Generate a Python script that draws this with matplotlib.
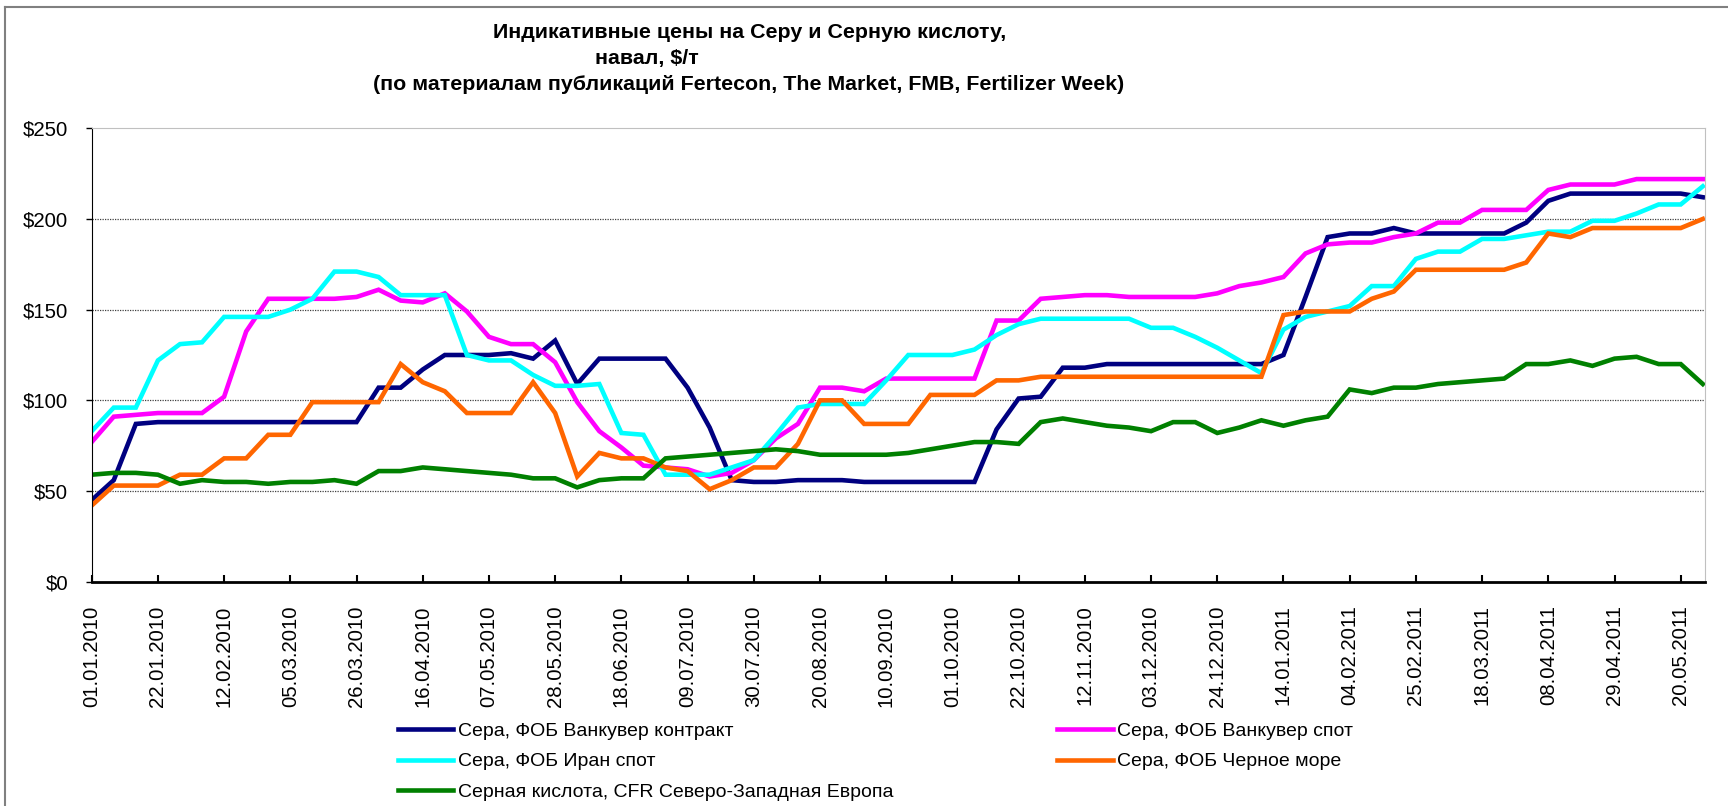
import pandas as pd
import matplotlib
matplotlib.use("Agg")
import matplotlib.pyplot as plt
from matplotlib.lines import Line2D

plt.rcParams['font.family'] = ['Liberation Sans', 'DejaVu Sans']

# weekly dates, 01.01.2010 .. 27.05.2011
dates = pd.date_range("2010-01-01", periods=74, freq="7D")
tick_labels = [d.strftime("%d.%m.%Y") for d in dates]

vanc_contract = [45, 56, 87, 88, 88, 88, 88, 88, 88, 88,
                 88, 88, 88, 107, 107, 117, 125, 125, 125, 126,
                 123, 133, 109, 123, 123, 123, 123, 107, 85, 56,
                 55, 55, 56, 56, 56, 55, 55, 55, 55, 55,
                 55, 84, 101, 102, 118, 118, 120, 120, 120, 120,
                 120, 120, 120, 120, 125, 157, 190, 192, 192, 195,
                 192, 192, 192, 192, 192, 198, 210, 214, 214, 214,
                 214, 214, 214, 212]

vanc_spot = [77, 91, 92, 93, 93, 93, 102, 138, 156, 156,
             156, 156, 157, 161, 155, 154, 159, 149, 135, 131,
             131, 121, 99, 83, 74, 64, 63, 62, 58, 60,
             67, 79, 87, 107, 107, 105, 112, 112, 112, 112,
             112, 144, 144, 156, 157, 158, 158, 157, 157, 157,
             157, 159, 163, 165, 168, 181, 186, 187, 187, 190,
             192, 198, 198, 205, 205, 205, 216, 219, 219, 219,
             222, 222, 222, 222]

iran_spot = [83, 96, 96, 122, 131, 132, 146, 146, 146, 150,
             156, 171, 171, 168, 158, 158, 158, 125, 122, 122,
             114, 108, 108, 109, 82, 81, 59, 59, 59, 63,
             67, 81, 96, 98, 98, 98, 111, 125, 125, 125,
             128, 136, 142, 145, 145, 145, 145, 145, 140, 140,
             135, 129, 122, 115, 139, 146, 149, 152, 163, 163,
             178, 182, 182, 189, 189, 191, 193, 193, 199, 199,
             203, 208, 208, 218]

black_sea = [42, 53, 53, 53, 59, 59, 68, 68, 81, 81,
             99, 99, 99, 99, 120, 110, 105, 93, 93, 93,
             110, 93, 58, 71, 68, 68, 63, 61, 51, 56,
             63, 63, 76, 100, 100, 87, 87, 87, 103, 103,
             103, 111, 111, 113, 113, 113, 113, 113, 113, 113,
             113, 113, 113, 113, 147, 149, 149, 149, 156, 160,
             172, 172, 172, 172, 172, 176, 192, 190, 195, 195,
             195, 195, 195, 200]

acid_nwe = [59, 60, 60, 59, 54, 56, 55, 55, 54, 55,
            55, 56, 54, 61, 61, 63, 62, 61, 60, 59,
            57, 57, 52, 56, 57, 57, 68, 69, 70, 71,
            72, 73, 72, 70, 70, 70, 70, 71, 73, 75,
            77, 77, 76, 88, 90, 88, 86, 85, 83, 88,
            88, 82, 85, 89, 86, 89, 91, 106, 104, 107,
            107, 109, 110, 111, 112, 120, 120, 122, 119, 123,
            124, 120, 120, 109]

series = [
    ("Сера, ФОБ Ванкувер контракт", vanc_contract, "#000080"),
    ("Сера, ФОБ Ванкувер спот", vanc_spot, "#FF00FF"),
    ("Сера, ФОБ Иран спот", iran_spot, "#00FFFF"),
    ("Сера, ФОБ Черное море", black_sea, "#FF6600"),
    ("Серная кислота, CFR Северо-Западная Европа", acid_nwe, "#008000"),
]

fig = plt.figure(figsize=(17.28, 8.06), dpi=100)
ax = fig.add_axes([91.7 / 1728, 1 - 581.7 / 806, (1705 - 91.7) / 1728, (581.7 - 128.3) / 806])

x = list(range(len(dates)))
handles = {}
for name, vals, col in series:
    h, = ax.plot(x, vals, color=col, lw=3.3, solid_joinstyle="miter", label=name)
    handles[name] = h

ax.set_xlim(0, 73.1)
ax.set_ylim(0, 250)
ax.set_yticks([0, 50, 100, 150, 200, 250])
ax.set_yticklabels(["$%d" % v for v in [0, 50, 100, 150, 200, 250]], fontsize=14.7)
ax.set_xticks(x[::3])
ax.set_xticklabels(tick_labels[::3], rotation=90, fontsize=14.7)
ax.tick_params(axis="x", direction="in", length=5, width=1.5, pad=17)
ax.tick_params(axis="y", direction="out", length=4, width=1, pad=13)

for v in [50, 100, 150, 200]:
    ax.axhline(v, color="#404040", lw=0.9, ls=(0, (1, 1)), zorder=0)

ax.spines["left"].set_color("black")
ax.spines["bottom"].set_color("black")
ax.spines["bottom"].set_linewidth(2)
ax.spines["top"].set_color("#c0c0c0")
ax.spines["right"].set_color("#c0c0c0")

order = [series[0][0], series[2][0], series[4][0], series[1][0], series[3][0]]
fig.legend([handles[n] for n in order], order, loc="upper left",
           bbox_to_anchor=(398 / 1728, 1 - 722 / 806), ncol=2, frameon=False,
           fontsize=14, handlelength=2.85, handletextpad=0.25, columnspacing=8.4,
           labelspacing=0.68, borderpad=0, borderaxespad=0)

title_font = dict(ha="center", va="center", fontsize=15.4, fontweight="bold")
fig.text(750 / 1728, 1 - 33 / 806, "Индикативные цены на Серу и Серную кислоту,", **title_font)
fig.text(647 / 1728, 1 - 58.4 / 806, "навал, $/т", **title_font)
fig.text(749 / 1728, 1 - 84 / 806,
         "(по материалам публикаций Fertecon, The Market, FMB, Fertilizer Week)", **title_font)

# outer chart border (left and top edges visible)
fig.add_artist(Line2D([5 / 1728, 5 / 1728], [0, 1 - 7 / 806], color="#808080", lw=1.5))
fig.add_artist(Line2D([5 / 1728, 1], [1 - 7 / 806, 1 - 7 / 806], color="#808080", lw=1.5))

fig.savefig("out.png", dpi=100)
